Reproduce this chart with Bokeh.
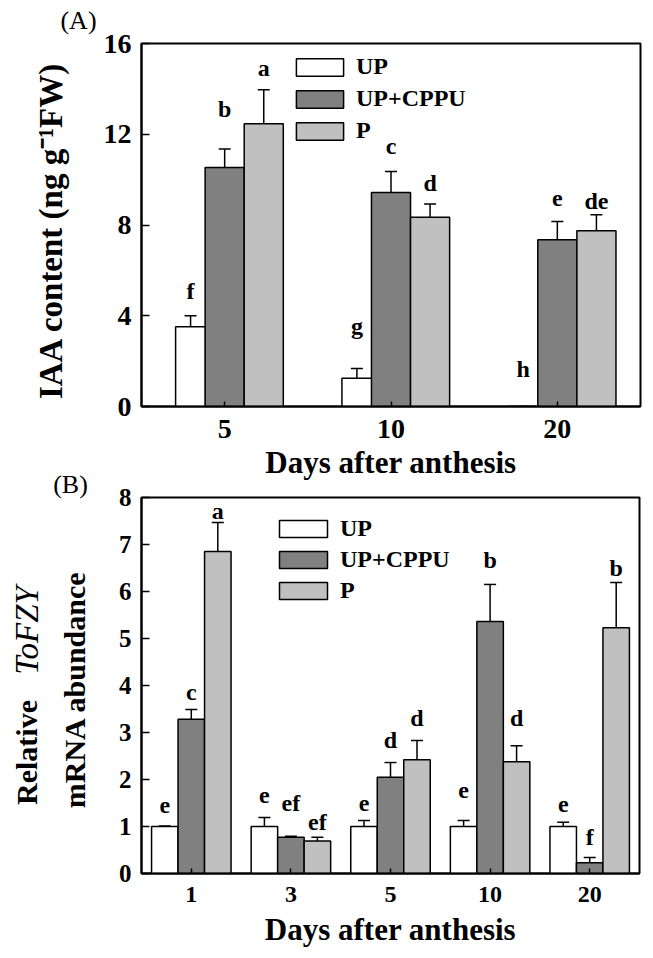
import math
from bokeh.plotting import figure
from bokeh.models import (ColumnDataSource, Range1d, FactorRange, FixedTicker,
                          Legend, LegendItem, Label)
from bokeh.transform import dodge
from bokeh.layouts import column, row
from bokeh.embed import file_html
from bokeh.resources import INLINE
from bokeh.core.properties import value

FONT = "Liberation Serif"
names = ["UP", "UP+CPPU", "P"]
colors = ["#ffffff", "#808080", "#c0c0c0"]

# ---------------- Panel A data (IAA content) ----------------
days_a = ["5", "10", "20"]
up_a = [3.52, 1.24, 0.0]
up_a_err = [0.48, 0.43, 0.0]
cppu_a = [10.53, 9.43, 7.35]
cppu_a_err = [0.82, 0.93, 0.80]
p_a = [12.46, 8.34, 7.75]
p_a_err = [1.50, 0.59, 0.70]
let_up_a = ["f", "g", "h"]
let_cppu_a = ["b", "c", "e"]
let_p_a = ["a", "d", "de"]
lety_up_a = [5.11, 3.57, 1.67]
lety_cppu_a = [13.13, 11.48, 9.19]
lety_p_a = [14.91, 9.87, 9.07]
yticks_a = [0, 4, 8, 12, 16]

# ---------------- Panel B data (ToFZY expression) ----------------
days_b = ["1", "3", "5", "10", "20"]
up_b = [1.0, 1.0, 1.0, 1.0, 1.0]
up_b_err = [0.01, 0.19, 0.13, 0.13, 0.09]
cppu_b = [3.28, 0.77, 2.05, 5.36, 0.23]
cppu_b_err = [0.21, 0.02, 0.31, 0.79, 0.11]
p_b = [6.85, 0.69, 2.42, 2.38, 5.23]
p_b_err = [0.62, 0.08, 0.41, 0.34, 0.96]
let_up_b = ["e", "e", "e", "e", "e"]
let_cppu_b = ["c", "ef", "d", "b", "f"]
let_p_b = ["a", "ef", "d", "d", "b"]
lety_up_b = [1.44, 1.65, 1.50, 1.76, 1.46]
lety_cppu_b = [3.86, 1.49, 2.83, 6.66, 0.77]
lety_p_b = [7.71, 1.09, 3.30, 3.30, 6.51]
yticks_b = [0, 1, 2, 3, 4, 5, 6, 7, 8]

xlabel = "Days after anthesis"
ylabel_a = "IAA content (ng g\u207b\u00b9FW)"


def build(days, vals, errs, labs, laby, offs, wids, ymax, yticks, fw, fh, mb,
          xfs, yfs, xstd, legend_loc, gw, gh, sp):
    p = figure(x_range=FactorRange(*days), y_range=Range1d(0, ymax),
               frame_width=fw, frame_height=fh,
               output_backend="svg", toolbar_location=None,
               min_border_left=mb[0], min_border_right=mb[1],
               min_border_top=mb[2], min_border_bottom=mb[3])
    p.xgrid.visible = False
    p.ygrid.visible = False
    p.outline_line_color = "black"
    p.outline_line_width = 2
    p.outline_line_alpha = 1
    p.background_fill_color = "white"
    p.border_fill_color = "white"

    items = []
    for k in range(3):
        src = ColumnDataSource(dict(
            day=days, top=vals[k],
            upper=[v + e for v, e in zip(vals[k], errs[k])],
            lab=labs[k], ly=laby[k]))
        x = dodge("day", offs[k], range=p.x_range)
        r = p.vbar(x=x, top="top", bottom=0, width=wids[k], source=src,
                   fill_color=colors[k], line_color="black", line_width=1.5)
        p.segment(x0=x, y0="top", x1=x, y1="upper", source=src,
                  line_color="black", line_width=1.5)
        p.scatter(x=x, y="upper", marker="dash", size=12, source=src,
                  line_color="black", line_width=1.5)
        p.text(x=x, y="ly", text="lab", source=src, text_align="center",
               text_baseline="middle", text_font=value(FONT),
               text_font_style="bold", text_font_size="24px", text_color="black")
        items.append(LegendItem(label=names[k], renderers=[r]))

    leg = Legend(items=items, location=legend_loc, glyph_width=gw, glyph_height=gh,
                 label_height=gh, label_standoff=7, spacing=sp, padding=0, margin=0,
                 border_line_alpha=0, background_fill_alpha=0,
                 label_text_font=FONT, label_text_font_style="bold",
                 label_text_font_size="24px", label_text_color="black")
    p.add_layout(leg)

    xa = p.xaxis[0]
    ya = p.yaxis[0]
    ya.ticker = FixedTicker(ticks=yticks)
    for ax in (xa, ya):
        ax.axis_line_width = 2
        ax.axis_line_color = "black"
        ax.major_tick_line_width = 1.5
        ax.major_tick_line_color = "black"
        ax.major_tick_out = 0
        ax.minor_tick_line_color = None
        ax.major_label_text_font = FONT
        ax.major_label_text_font_style = "bold"
        ax.major_label_text_color = "black"
        ax.axis_label_text_font = FONT
        ax.axis_label_text_font_style = "bold"
        ax.axis_label_text_color = "black"
    xa.major_tick_in = 5
    ya.major_tick_in = 8
    xa.major_label_text_font_size = xfs
    ya.major_label_text_font_size = yfs
    xa.major_label_standoff = xstd
    ya.major_label_standoff = 10
    return p


# Panel A
pa = build(days_a, [up_a, cppu_a, p_a], [up_a_err, cppu_a_err, p_a_err],
           [let_up_a, let_cppu_a, let_p_a], [lety_up_a, lety_cppu_a, lety_p_a],
           [-0.205, 0.0, 0.235], [0.18, 0.235, 0.235], 16, yticks_a,
           499, 363, (40, 6, 43, 77), "28px", "28px", 13,
           (149, 262), 59, 22, 5)
pa.xaxis[0].axis_label = xlabel
pa.xaxis[0].axis_label_text_font_size = "31px"
pa.xaxis[0].axis_label_standoff = 4

# Panel B
pb = build(days_b, [up_b, cppu_b, p_b], [up_b_err, cppu_b_err, p_b_err],
           [let_up_b, let_cppu_b, let_p_b], [lety_up_b, lety_cppu_b, lety_p_b],
           [-0.266, 0.0, 0.266], [0.266, 0.266, 0.266], 8, yticks_b,
           498, 376, (41, 6, 14, 84), "24px", "25px", 13,
           (132, 269), 60, 21, 4)
pb.xaxis[0].axis_label = xlabel
pb.xaxis[0].axis_label_text_font_size = "31px"
pb.xaxis[0].axis_label_standoff = 7

# Left strip holding the panel tags and the vertical axis titles
H = 957
strip = figure(width=100, height=H, x_range=Range1d(0, 100), y_range=Range1d(H, 0),
               output_backend="svg", toolbar_location=None,
               x_axis_location=None, y_axis_location=None, min_border=0)
strip.outline_line_color = None
strip.xgrid.visible = False
strip.ygrid.visible = False


def lab(x, y, text, size, style, angle=0.0):
    strip.add_layout(Label(x=x, y=y, text=text, text_font=FONT, text_font_size=size,
                           text_font_style=style, text_color="black", angle=angle,
                           text_align="center", text_baseline="middle"))


lab(78, 20, "(A)", "26px", "normal")
lab(50, 230, ylabel_a, "33px", "bold", math.pi / 2)
lab(70, 484, "(B)", "26px", "normal")
lab(26, 752, "Relative", "30px", "bold", math.pi / 2)
lab(26, 630, "ToFZY", "33px", "italic", math.pi / 2)
lab(74, 689, "mRNA abundance", "30px", "bold", math.pi / 2)

layout = row(strip, column(pa, pb, spacing=0), spacing=0)
open("out.html", "w").write(file_html(layout, INLINE))
